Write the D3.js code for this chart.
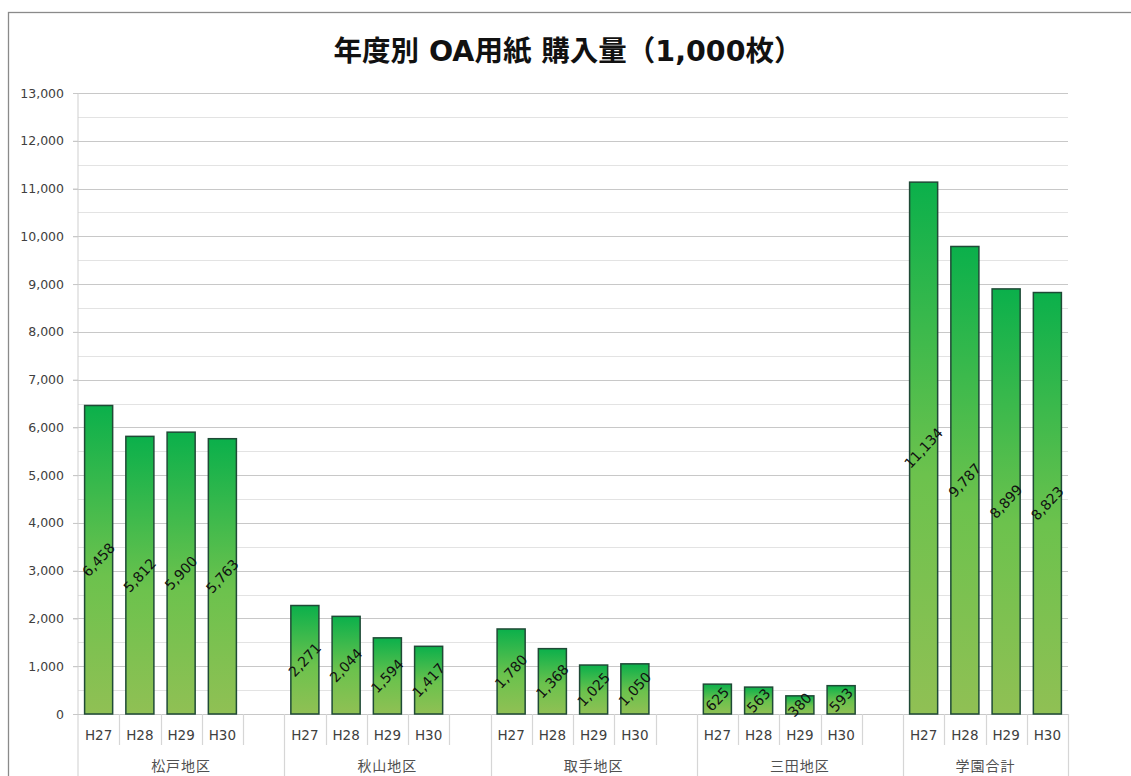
<!DOCTYPE html>
<html>
<head>
<meta charset="utf-8">
<script src="https://cdn.jsdelivr.net/npm/d3@7"></script>
<style>
html,body{margin:0;padding:0;background:#fff;}
svg{display:block;}
</style>
</head>
<body>
<svg id="chart" width="1131" height="776"></svg>
<script>
// ---- data ----
const title = "年度別 OA用紙 購入量（1,000枚）";
const groups = ["松戸地区", "秋山地区", "取手地区", "三田地区", "学園合計"];
const years = ["H27", "H28", "H29", "H30"];
const matsudo = [6458, 5812, 5900, 5763];
const akiyama = [2271, 2044, 1594, 1417];
const toride = [1780, 1368, 1025, 1050];
const mita = [625, 563, 380, 593];
const total = [11134, 9787, 8899, 8823];
const yTicks = [0,1000,2000,3000,4000,5000,6000,7000,8000,9000,10000,11000,12000,13000];
const yMinor = [500,1500,2500,3500,4500,5500,6500,7500,8500,9500,10500,11500,12500];

const seriesByGroup = [matsudo, akiyama, toride, mita, total];

// build slots: each group has 4 year slots + 1 spacer (except last)
const slots = [];
groups.forEach((g, gi) => {
  years.forEach((yr, yi) => slots.push({id: gi + "-" + yi, group: g, gi, year: yr, value: seriesByGroup[gi][yi]}));
  if (gi < groups.length - 1) slots.push({id: gi + "-sp", group: g, gi, year: null, value: null});
});

const svg = d3.select("#chart");
const pL = 78, pR = 1068, pT = 93, pB = 714;

const x = d3.scaleBand().domain(slots.map(d => d.id)).range([pL, pR]).padding(0);
const y = d3.scaleLinear().domain([0, 13000]).range([pB, pT]);

// outer border
svg.append("rect").attr("x", 8.5).attr("y", 12.5).attr("width", 1140).attr("height", 800)
  .attr("fill", "none").attr("stroke", "#8a8a8a").attr("stroke-width", 1.3);

// title
svg.append("text").attr("x", 568).attr("y", 61).attr("text-anchor", "middle")
  .attr("font-family", "'DejaVu Sans', 'Noto Sans CJK JP', sans-serif").attr("font-weight", "bold")
  .attr("font-size", 28.5).attr("fill", "#111").text(title);

// gridlines
svg.append("g").selectAll("line").data(yMinor).join("line")
  .attr("x1", pL).attr("x2", pR).attr("y1", d => Math.round(y(d)) + 0.5).attr("y2", d => Math.round(y(d)) + 0.5)
  .attr("stroke", "#e3e3e3").attr("stroke-width", 1.2);
svg.append("g").selectAll("line").data(yTicks.filter(d => d > 0)).join("line")
  .attr("x1", pL - 5).attr("x2", pR).attr("y1", d => Math.round(y(d)) + 0.5).attr("y2", d => Math.round(y(d)) + 0.5)
  .attr("stroke", "#c8c8c8").attr("stroke-width", 1.2);

// y axis
const yAxis = d3.axisLeft(y).tickValues(yTicks).tickFormat(d3.format(",")).tickSize(5).tickPadding(9);
const gy = svg.append("g").attr("transform", `translate(${pL},0)`).call(yAxis);
gy.select(".domain").attr("stroke", "#cfcfcf").attr("d", `M0,${pT}V776`);
gy.selectAll(".tick line").attr("stroke", "#c8c8c8");
gy.selectAll(".tick text").attr("font-family", "'DejaVu Sans', sans-serif").attr("font-size", 12.5).attr("fill", "#404040");

// x axis baseline
svg.append("line").attr("x1", pL - 5).attr("x2", pR).attr("y1", pB + 0.5).attr("y2", pB + 0.5)
  .attr("stroke", "#c8c8c8").attr("stroke-width", 1.2);

// slot separator lines
const bw = x.bandwidth();
const sepG = svg.append("g");
slots.forEach((s, i) => {
  const xr = x(s.id) + bw;
  const isGroupEnd = (i === slots.length - 1) || slots[i + 1].gi !== s.gi;
  sepG.append("line").attr("x1", Math.round(xr) + 0.5).attr("x2", Math.round(xr) + 0.5)
    .attr("y1", pB).attr("y2", isGroupEnd ? 776 : 745)
    .attr("stroke", "#d6d6d6").attr("stroke-width", 1.2);
});

// year labels
svg.append("g").selectAll("text").data(slots.filter(d => d.year)).join("text")
  .attr("x", d => x(d.id) + bw / 2).attr("y", 740).attr("text-anchor", "middle")
  .attr("font-family", "'DejaVu Sans', sans-serif").attr("font-size", 13.5).attr("fill", "#404040")
  .text(d => d.year);

// group labels
svg.append("g").selectAll("text").data(groups).join("text")
  .attr("x", (g, gi) => {
    const ss = slots.filter(s => s.gi === gi);
    return (x(ss[0].id) + x(ss[ss.length - 1].id) + bw) / 2;
  })
  .attr("y", 771).attr("text-anchor", "middle")
  .attr("font-family", "'Noto Sans CJK JP', sans-serif").attr("font-size", 14).attr("letter-spacing", 1)
  .attr("fill", "#505050").text(g => g);

// gradient
const defs = svg.append("defs");
const grad = defs.append("linearGradient").attr("id", "barGrad").attr("x1", 0).attr("y1", 0).attr("x2", 0).attr("y2", 1);
grad.append("stop").attr("offset", "0%").attr("stop-color", "#0bb04b");
grad.append("stop").attr("offset", "55%").attr("stop-color", "#6cc24d");
grad.append("stop").attr("offset", "100%").attr("stop-color", "#90c054");

const barW = bw * 0.68;
const bars = slots.filter(d => d.value != null);
svg.append("g").selectAll("rect").data(bars).join("rect")
  .attr("x", d => x(d.id) + (bw - barW) / 2)
  .attr("y", d => y(d.value))
  .attr("width", barW)
  .attr("height", d => pB - y(d.value))
  .attr("fill", "url(#barGrad)")
  .attr("stroke", "#1f4a36").attr("stroke-width", 1.5);

// value labels
svg.append("g").selectAll("text").data(bars).join("text")
  .attr("transform", d => `translate(${x(d.id) + bw / 2},${(y(d.value) + pB) / 2}) rotate(-47)`)
  .attr("text-anchor", "middle").attr("dy", "0.35em")
  .attr("font-family", "'DejaVu Sans', sans-serif").attr("font-size", 14).attr("fill", "#111")
  .text(d => d3.format(",")(d.value));
</script>
</body>
</html>
